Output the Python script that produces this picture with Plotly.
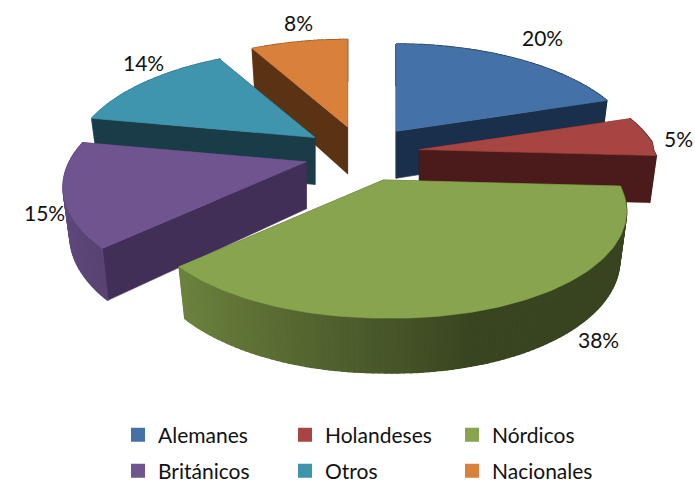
import numpy as np
import plotly.graph_objects as go

categories = ["Alemanes", "Holandeses", "Nórdicos", "Británicos", "Otros", "Nacionales"]
values = [20, 5, 38, 15, 14, 8]
labels = ["20%", "5%", "38%", "15%", "14%", "8%"]

top_colors = ["#4472A8", "#A74543", "#88A44E", "#6F5490", "#3F95AE", "#D9803A"]
wall_colors = ["#1A2F4B", "#4A1B1A", "#3A451F", "#412F57", "#1A3C48", "#5A3315"]
draw_order = [5, 4, 0, 1, 3, 2]
label_xy = [(542, 37), (678, 138), (598, 339), (44, 212), (143, 62), (298, 22)]

CX, CY, PULL_X, PULL_Y = 362, 154, 58, 28
A, B, P, H = 237, 107, 0.225, 47
INSET = 0.972


def hex_rgb(c):
    return np.array([int(c[i:i + 2], 16) for i in (1, 3, 5)], float)


def shade(c, f):
    r, g, b = np.clip(hex_rgb(c) * f, 0, 255).astype(int)
    return f"rgb({r},{g},{b})"


def project(apex, u, v):
    s = 1 / (1 + P * v)
    return apex[0] + A * u * s, apex[1] - B * v * s + 6 * max(u, 0) * (v < 0.05)


def poly(fig, xs, ys, color, w=0.6):
    fig.add_trace(go.Scatter(x=xs, y=ys, mode="lines", fill="toself", fillcolor=color,
                             line=dict(color=color, width=w), hoverinfo="skip", showlegend=False))


fig = go.Figure()
edges = np.cumsum([0] + values) / sum(values) * 2 * np.pi

for i in draw_order:
    t0, t1 = edges[i], edges[i + 1]
    mid = (t0 + t1) / 2
    apex = (CX + PULL_X * np.sin(mid), CY - PULL_Y * np.cos(mid))
    th = np.linspace(t0, t1, max(int(values[i] * 3), 8))
    rim = [project(apex, np.sin(a), np.cos(a)) for a in th]
    vs = np.cos(th)
    drop = lambda pt, v: (apex[0] + (pt[0] - apex[0]) * INSET,
                          pt[1] + H * (1 / (1 + P * v)) ** 0.6)

    pieces = []
    for j in range(len(th) - 1):
        a, b = rim[j], rim[j + 1]
        da, db = drop(a, vs[j]), drop(b, vs[j + 1])
        um = np.sin((th[j] + th[j + 1]) / 2)
        f = np.interp(um, [-1, -0.73, 0.3, 1], [0.88, 0.8, 0.42, 0.42])
        pieces.append(((vs[j] + vs[j + 1]) / 2, [a[0], b[0], db[0], da[0], a[0]],
                       [a[1], b[1], db[1], da[1], a[1]], shade(top_colors[i], f), 1.5))
    for k, ang in ((0, t0), (-1, t1)):
        e = rim[k]
        de = drop(e, vs[k])
        pieces.append((np.cos(ang) / 2, [apex[0], e[0], de[0], apex[0], apex[0]],
                       [apex[1], e[1], de[1], apex[1] + H, apex[1]], wall_colors[i], 0.6))
    for _, xs, ys, col, w in sorted(pieces, key=lambda q: -q[0]):
        poly(fig, xs, ys, col, w)

    poly(fig, [apex[0]] + [p[0] for p in rim] + [apex[0]],
         [apex[1]] + [p[1] for p in rim] + [apex[1]], top_colors[i])

for i, name in enumerate(categories):
    fig.add_trace(go.Scatter(x=[None], y=[None], mode="markers", name=name,
                             marker=dict(symbol="square", size=14, color=top_colors[i]),
                             legend="legend" if i < 3 else "legend2"))

for txt, (x, y) in zip(labels, label_xy):
    fig.add_annotation(x=x, y=y, text=txt, showarrow=False, xref="x", yref="y",
                       font=dict(family="Lato", size=21, color="#111111"))

leg = dict(orientation="h", xanchor="left", yanchor="middle", x=118 / 695,
           entrywidth=122, entrywidthmode="pixels", bgcolor="rgba(0,0,0,0)",
           font=dict(family="Lato", size=21, color="#111111"), itemclick=False, itemdoubleclick=False)
fig.update_layout(
    width=695, height=484, margin=dict(l=0, r=0, t=0, b=0, autoexpand=False),
    paper_bgcolor="white", plot_bgcolor="white",
    xaxis=dict(range=[0, 695], visible=False, fixedrange=True),
    yaxis=dict(range=[484, 0], visible=False, fixedrange=True),
    legend=dict(leg, y=1 - 435 / 484),
    legend2=dict(leg, y=1 - 471 / 484),
)
fig.write_html("out.html", config={"displayModeBar": False},
               post_script="document.body.style.margin='0';document.body.style.overflow='hidden';")
